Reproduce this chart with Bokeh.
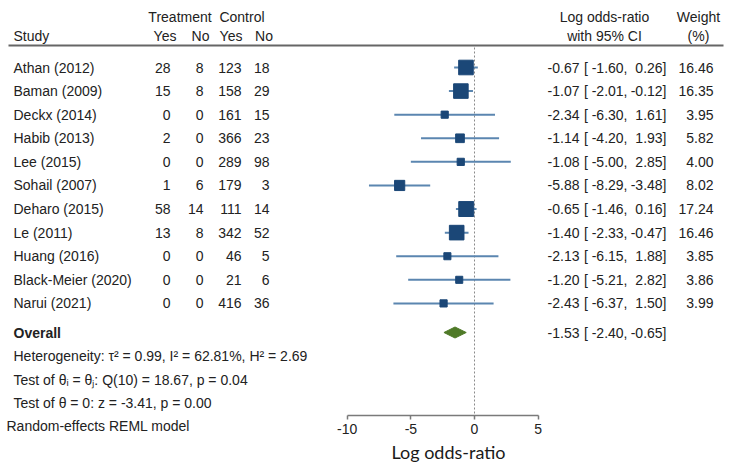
from bokeh.plotting import figure
from bokeh.models import Range1d, LinearAxis, FixedTicker, ColumnDataSource
from bokeh.embed import file_html
from bokeh.resources import INLINE
from bokeh.core.properties import value
import math

# ---------------- data ----------------
studies = ["Athan (2012)", "Baman (2009)", "Deckx (2014)", "Habib (2013)", "Lee (2015)",
           "Sohail (2007)", "Deharo (2015)", "Le (2011)", "Huang (2016)",
           "Black-Meier (2020)", "Narui (2021)"]
treat_yes = [28, 15, 0, 2, 0, 1, 58, 13, 0, 0, 0]
treat_no = [8, 8, 0, 0, 0, 6, 14, 8, 0, 0, 0]
ctrl_yes = [123, 158, 161, 366, 289, 179, 111, 342, 46, 21, 416]
ctrl_no = [18, 29, 15, 23, 98, 3, 14, 52, 5, 6, 36]
log_or = [-0.67, -1.07, -2.34, -1.14, -1.08, -5.88, -0.65, -1.40, -2.13, -1.20, -2.43]
ci_low = [-1.60, -2.01, -6.30, -4.20, -5.00, -8.29, -1.46, -2.33, -6.15, -5.21, -6.37]
ci_high = [0.26, -0.12, 1.61, 1.93, 2.85, -3.48, 0.16, -0.47, 1.88, 2.82, 1.50]
weights = [16.46, 16.35, 3.95, 5.82, 4.00, 8.02, 17.24, 16.46, 3.85, 3.86, 3.99]
overall_est = -1.53
overall_low = -2.40
overall_high = -0.65
null_value = 0
x_ticks = [-10, -5, 0, 5]
stats_lines = [
    "Heterogeneity: \u03c4\u00b2 = 0.99, I\u00b2 = 62.81%, H\u00b2 = 2.69",
    "Test of \u03b8\u1d62 = \u03b8\u2c7c: Q(10) = 18.67, p = 0.04",
    "Test of \u03b8 = 0: z = -3.41, p = 0.00",
]
model_note = "Random-effects REML model"
x_title = "Log odds-ratio"

# ---------------- layout helpers (page pixels -> data) ----------------
W, H = 731, 465
PX_PER_UNIT = 12.73
ZERO_PX = 474
ROW0_PX = 67
ROW_PX = 23.59

def fx(px):
    return (px - ZERO_PX) / PX_PER_UNIT

def ry(py):
    return (py - ROW0_PX) / ROW_PX

FONT = value("Liberation Sans")
TXT = "#222222"
FS = "14px"

p = figure(width=W, height=H, output_backend="svg", toolbar_location=None,
           x_range=Range1d(fx(0), fx(W)), y_range=Range1d(ry(H), ry(0)),
           x_axis_type=None, y_axis_type=None,
           min_border_left=0, min_border_right=0, min_border_top=0, min_border_bottom=0)
p.outline_line_color = None
p.xgrid.visible = False
p.ygrid.visible = False
p.background_fill_color = "white"
p.border_fill_color = "white"

n = len(studies)
rows = list(range(n))

def add_text(xs, ys, texts, align="left", bold=False, font=FONT, size=FS, color=TXT):
    src = ColumnDataSource(dict(x=xs, y=ys, t=texts))
    p.text(x="x", y="y", text="t", source=src, text_align=align, text_baseline="middle",
           text_font=font, text_font_size=size, text_color=color,
           text_font_style="bold" if bold else "normal")

# header
hy1, hy2 = ry(16), ry(35)
add_text([fx(179.5), fx(241.5)], [hy1, hy1], ["Treatment", "Control"], align="center")
add_text([fx(604), fx(698)], [hy1, hy1], ["Log odds-ratio", "Weight"], align="center")
add_text([fx(13)], [hy2], ["Study"])
add_text([fx(164.5), fx(200), fx(230.5), fx(263.5)], [hy2] * 4, ["Yes", "No", "Yes", "No"], align="center")
add_text([fx(604), fx(698)], [hy2, hy2], ["with 95% CI", "(%)"], align="center")
p.segment(x0=[fx(8)], y0=[ry(45)], x1=[fx(723)], y1=[ry(45)], line_color="#666666", line_width=2)

# null line
p.segment(x0=[null_value], y0=[ry(47)], x1=[null_value], y1=[ry(415)],
          line_color="#8a8a8a", line_width=1, line_dash="2 2")

# study columns
add_text([fx(13)] * n, rows, studies)
add_text([fx(170)] * n, rows, [str(v) for v in treat_yes], align="right")
add_text([fx(203)] * n, rows, [str(v) for v in treat_no], align="right")
add_text([fx(241)] * n, rows, [str(v) for v in ctrl_yes], align="right")
add_text([fx(269)] * n, rows, [str(v) for v in ctrl_no], align="right")

add_text([fx(579)] * n, rows, [f"{v:.2f}" for v in log_or], align="right")
add_text([fx(627)] * n, rows, [f"[ {v:.2f}," for v in ci_low], align="right")
add_text([fx(666)] * n, rows, [f"{v:.2f}]" for v in ci_high], align="right")
add_text([fx(713)] * n, rows, [f"{v:.2f}" for v in weights], align="right")

# CI lines and squares
p.segment(x0=ci_low, y0=rows, x1=ci_high, y1=rows, line_color="#5b86b0", line_width=2)
sizes = [3.6 * math.sqrt(w) for w in weights]
p.scatter(x=log_or, y=rows, size=sizes, marker="square", fill_color="#1b4777",
          line_color="#1b4777")

# overall
oy = ry(332)
add_text([fx(13)], [oy], ["Overall"], bold=True)
add_text([fx(579)], [oy], [f"{overall_est:.2f}"], align="right")
add_text([fx(627)], [oy], [f"[ {overall_low:.2f},"], align="right")
add_text([fx(666)], [oy], [f"{overall_high:.2f}]"], align="right")
dh = 5.5 / ROW_PX
p.patch(x=[overall_low, overall_est, overall_high, overall_est],
        y=[oy, oy - dh, oy, oy + dh], fill_color="#4f7a28", line_color="#4f7a28")

# stats
add_text([fx(13)] * 3, [ry(355), ry(379), ry(402)], stats_lines)

# axis, drawn inside the frame at the bottom of the forest panel
ax = LinearAxis(ticker=FixedTicker(ticks=x_ticks), bounds=(x_ticks[0], x_ticks[-1]),
                fixed_location=ry(415))
ax.major_label_overrides = {t: str(t) for t in x_ticks}
ax.axis_line_color = "#7a7a7a"
ax.axis_line_width = 1.5
ax.major_tick_line_color = "#7a7a7a"
ax.major_tick_line_width = 1.5
ax.major_tick_out = 4
ax.major_tick_in = 0
ax.minor_tick_line_color = None
ax.major_label_text_font = "Liberation Sans"
ax.major_label_text_font_size = FS
ax.major_label_text_color = TXT
ax.major_label_standoff = 4
p.add_layout(ax, "below")

# notes below the axis
add_text([fx(6)], [ry(425)], [model_note])
add_text([fx(448)], [ry(451)], [x_title], align="center", font=value("Lato"),
         size="18px", color="#1a1a1a")

open("out.html", "w").write(file_html(p, INLINE))
